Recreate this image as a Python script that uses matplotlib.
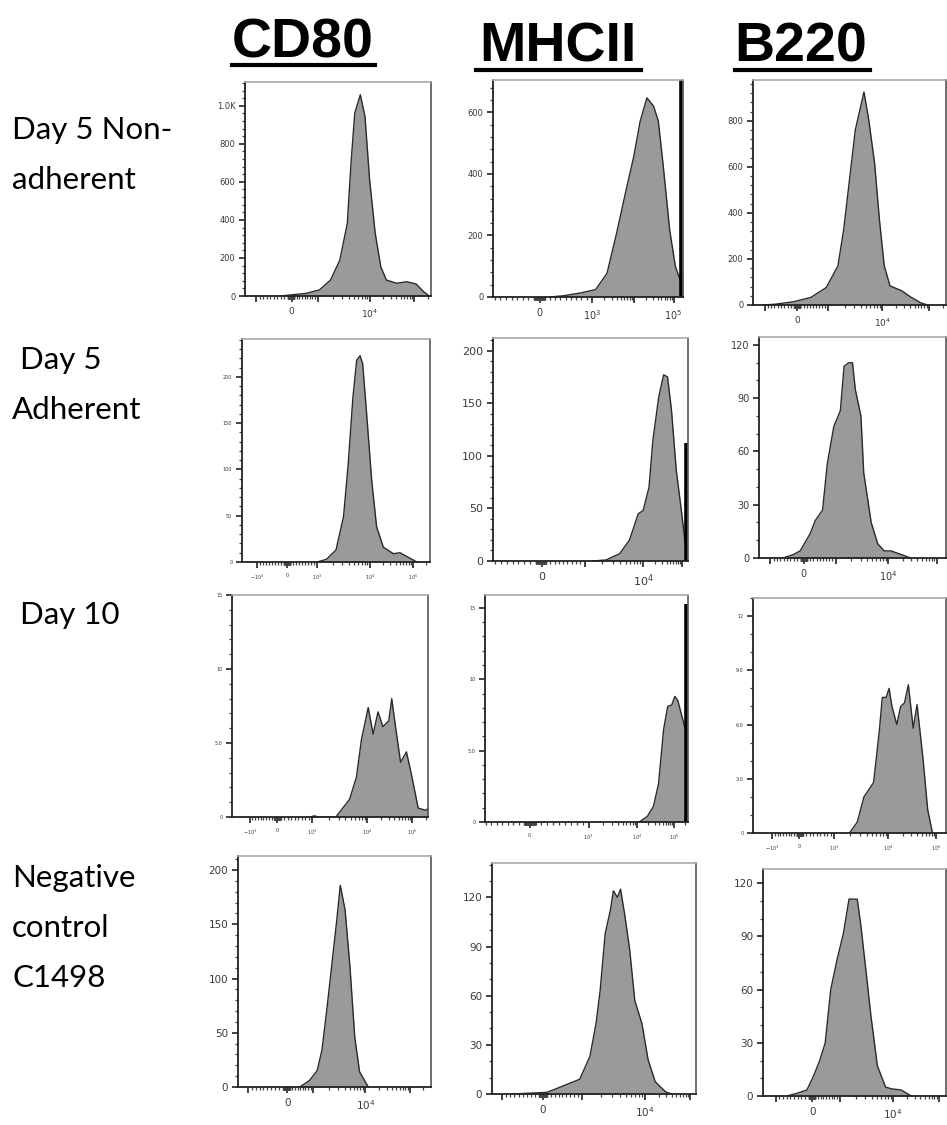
import matplotlib
matplotlib.use('agg')
import matplotlib.pyplot as plt
from matplotlib.lines import Line2D
from matplotlib.ticker import AutoMinorLocator
import numpy as np

W, H = 947, 1125
FILL = '#9a9a9a'
EDGE = '#2a2a2a'
TXT = '#3a3a3a'

markers = ['CD80', 'MHCII', 'B220']
samples = [['Day 5 Non-', 'adherent'], [' Day 5', 'Adherent'], [' Day 10'],
           ['Negative', 'control', 'C1498']]

# histogram outlines: x is the position on the biex display axis (0..1), y is count
cd80_d5n_x = [0.19, 0.33, 0.40, 0.46, 0.51, 0.55, 0.57, 0.59, 0.62, 0.645, 0.67, 0.70, 0.73, 0.76, 0.815, 0.87, 0.92, 0.96, 0.99]
cd80_d5n_y = [0, 14, 32, 84, 189, 382, 698, 961, 1058, 944, 610, 330, 154, 84, 67, 75, 63, 23, 0]
mhc_d5n_x = [0.30, 0.37, 0.46, 0.54, 0.60, 0.65, 0.70, 0.74, 0.775, 0.81, 0.845, 0.87, 0.895, 0.93, 0.96, 0.985, 1.0]
mhc_d5n_y = [0, 4, 13, 24, 77, 206, 346, 454, 572, 647, 620, 572, 432, 217, 99, 56, 77]
b220_d5n_x = [0.05, 0.11, 0.21, 0.30, 0.38, 0.44, 0.47, 0.50, 0.53, 0.575, 0.60, 0.63, 0.655, 0.68, 0.71, 0.77, 0.82, 0.87, 0.905]
b220_d5n_y = [0, 3, 14, 33, 76, 170, 328, 544, 760, 925, 803, 616, 371, 170, 83, 62, 33, 9, 0]

cd80_d5a_x = [0.40, 0.45, 0.50, 0.54, 0.565, 0.59, 0.61, 0.628, 0.642, 0.663, 0.69, 0.716, 0.752, 0.805, 0.84, 0.894, 0.93]
cd80_d5a_y = [0, 3, 13, 49, 106, 178, 218, 223, 214, 160, 88, 38, 16, 9, 10, 4, 0]
mhc_d5a_x = [0.51, 0.58, 0.65, 0.70, 0.745, 0.77, 0.80, 0.82, 0.85, 0.875, 0.895, 0.915, 0.94, 0.97, 0.985]
mhc_d5a_y = [0, 1, 7, 20, 45, 48, 70, 115, 156, 177, 175, 144, 86, 42, 17]
b220_d5a_x = [0.13, 0.185, 0.22, 0.275, 0.30, 0.34, 0.365, 0.40, 0.435, 0.455, 0.48, 0.50, 0.515, 0.545, 0.56, 0.60, 0.635, 0.67, 0.705, 0.76, 0.81]
b220_d5a_y = [0, 2, 4, 14, 21, 27, 53, 74, 83, 108, 110, 110, 95, 80, 48, 20, 8, 4, 4, 2, 0]

cd80_d10_x = [0.40, 0.42, 0.44, 0.53, 0.60, 0.635, 0.66, 0.695, 0.72, 0.745, 0.77, 0.80, 0.815, 0.83, 0.86, 0.89, 0.915, 0.95, 0.99, 1.0]
cd80_d10_y = [0, 0.08, 0, 0, 1.2, 2.7, 5.2, 7.4, 5.6, 7.1, 6.1, 6.5, 8.0, 6.5, 3.7, 4.4, 2.9, 0.6, 0.45, 0.6]
mhc_d10_x = [0.76, 0.80, 0.83, 0.855, 0.88, 0.90, 0.92, 0.935, 0.95, 0.97, 0.985]
mhc_d10_y = [0, 0.4, 1.1, 2.7, 6.5, 8.1, 8.2, 8.8, 8.5, 7.4, 6.6]
b220_d10_x = [0.50, 0.54, 0.575, 0.60, 0.625, 0.655, 0.67, 0.69, 0.705, 0.72, 0.745, 0.765, 0.785, 0.805, 0.83, 0.85, 0.88, 0.905, 0.93]
b220_d10_y = [0, 0.6, 2.0, 2.4, 2.8, 5.7, 7.5, 7.5, 8.0, 7.0, 6.0, 7.0, 7.2, 8.2, 5.8, 7.1, 4.2, 1.3, 0]

cd80_neg_x = [0.32, 0.37, 0.41, 0.435, 0.46, 0.485, 0.51, 0.53, 0.555, 0.58, 0.605, 0.63, 0.675]
cd80_neg_y = [0, 6, 15, 34, 71, 111, 151, 186, 163, 111, 46, 14, 0]
mhc_neg_x = [0.10, 0.27, 0.43, 0.48, 0.51, 0.53, 0.555, 0.58, 0.595, 0.615, 0.63, 0.65, 0.675, 0.70, 0.735, 0.765, 0.80, 0.85, 0.88]
mhc_neg_y = [0, 1, 9, 23, 43, 63, 98, 112, 124, 120, 125, 110, 88, 57, 43, 21, 7.5, 1.4, 0]
b220_neg_x = [0.13, 0.185, 0.24, 0.275, 0.31, 0.34, 0.37, 0.405, 0.44, 0.47, 0.495, 0.515, 0.535, 0.56, 0.59, 0.625, 0.67, 0.705, 0.755, 0.81]
b220_neg_y = [0, 1.5, 3.4, 11, 20, 30, 60, 77, 92, 111, 111, 111, 96, 73, 45, 17, 5, 4, 3.4, 0]

# events piled up in the last channel of the MHCII plots (rows 1-3)
mhc_edge = [760, 112, 15.3]

curves = [[(cd80_d5n_x, cd80_d5n_y), (mhc_d5n_x, mhc_d5n_y), (b220_d5n_x, b220_d5n_y)],
          [(cd80_d5a_x, cd80_d5a_y), (mhc_d5a_x, mhc_d5a_y), (b220_d5a_x, b220_d5a_y)],
          [(cd80_d10_x, cd80_d10_y), (mhc_d10_x, mhc_d10_y), (b220_d10_x, b220_d10_y)],
          [(cd80_neg_x, cd80_neg_y), (mhc_neg_x, mhc_neg_y), (b220_neg_x, b220_neg_y)]]

# y ticks and their labels
yticks = [[[0, 200, 400, 600, 800, 1000], [0, 200, 400, 600], [0, 200, 400, 600, 800]],
          [[0, 50, 100, 150, 200], [0, 50, 100, 150, 200], [0, 30, 60, 90, 120]],
          [[0, 5, 10, 15], [0, 5, 10, 15], [0, 3, 6, 9, 12]],
          [[0, 50, 100, 150, 200], [0, 30, 60, 90, 120], [0, 30, 60, 90, 120]]]
ylabels = [[['0', '200', '400', '600', '800', '1.0K'], None, None],
           [None, None, None],
           [['0', '5.0', '10', '15'], ['0', '5.0', '10', '15'], ['0', '3.0', '6.0', '9.0', '12']],
           [None, None, None]]
ymax = [[1125, 705, 977], [241, 212, 124.5], [15, 15.9, 13.0], [213, 141, 128]]

# decade labels: -10^3, 0, 10^3, 10^4, 10^5
dec_labels = [r'$-10^3$', '0', r'$10^3$', r'$10^4$', r'$10^5$']
xshow = [[[1, 3], [1, 2, 4], [1, 3]],
         [[0, 1, 2, 3, 4], [1, 3], [1, 3]],
         [[0, 1, 2, 3, 4], [1, 2, 3, 4], [0, 1, 2, 3, 4]],
         [[1, 3], [1, 3], [1, 3]]]

# ---- layout (pixels) ----
boxes = [[(245, 82, 431, 296), (493, 80, 683, 297), (753, 80, 946, 305)],
         [(242, 339, 430, 562), (493, 338, 688, 561), (759, 337, 946, 558)],
         [(232, 595, 428, 817), (485, 595, 688, 822), (753, 598, 946, 833)],
         [(238, 856, 431, 1087), (492, 863, 696, 1094), (763, 869, 946, 1096)]]
xpos = [[[0.06, 0.25, 0.39, 0.67, 0.91], [-0.05, 0.245, 0.52, 0.74, 0.95], [0.06, 0.23, 0.39, 0.67, 0.91]],
        [[0.08, 0.24, 0.40, 0.68, 0.91], [-0.05, 0.25, 0.47, 0.77, 0.97], [0.06, 0.24, 0.41, 0.69, 0.95]],
        [[0.09, 0.23, 0.41, 0.69, 0.92], [-0.05, 0.22, 0.51, 0.75, 0.93], [0.10, 0.24, 0.42, 0.70, 0.95]],
        [[0.05, 0.255, 0.39, 0.66, 0.89], [0.05, 0.25, 0.44, 0.75, 0.97], [0.07, 0.27, 0.42, 0.71, 0.96]]]
font_sizes = [[(6.5, 6), (7, 6), (6.5, 6)],
              [(3.5, 3.5), (8, 8), (7, 7)],
              [(3.5, 3.5), (3.5, 3.5), (3.5, 3.5)],
              [(7.5, 7.5), (7.5, 7.5), (7.5, 7.5)]]


def minor_positions(p):
    neg, z, d3, d4, d5 = p
    out = []
    lin = list(range(5, 100, 5)) + list(range(100, 1000, 100))
    for v in lin:
        out.append(z + (d3 - z) * v / 1000.0)
        out.append(z - (z - neg) * v / 1000.0)
    for m in range(2, 10):
        out.append(d3 + (d4 - d3) * np.log10(m))
        out.append(d4 + (d5 - d4) * np.log10(m))
    out.append(d5 + (d5 - d4) * np.log10(2))
    return [x for x in out if 0 < x < 1]


def px_box(box):
    l, t, r, b = box
    return [l / W, 1 - b / H, (r - l) / W, (b - t) / H]


def draw_panel(fig, i, j):
    ax = fig.add_axes(px_box(boxes[i][j]))
    x, y = curves[i][j]
    ax.fill_between(x, y, 0, color=FILL, lw=0)
    ax.plot(x, y, color=EDGE, lw=1.0)
    if j == 1 and i < 3:
        ax.vlines(0.992, 0, mhc_edge[i], color='black', lw=2.6)

    ax.set_xlim(0, 1)
    ax.set_ylim(0, ymax[i][j])

    pos = xpos[i][j]
    xt = [pos[k] for k in range(5) if 0 <= pos[k] <= 1]
    xl = [dec_labels[k] if k in xshow[i][j] else '' for k in range(5) if 0 <= pos[k] <= 1]
    xfs, yfs = font_sizes[i][j]
    ax.set_xticks(xt)
    ax.set_xticklabels(xl, fontsize=xfs, color=TXT)
    ax.set_xticks(minor_positions(pos), minor=True)

    yt = yticks[i][j]
    ax.set_yticks(yt)
    labs = ylabels[i][j] if ylabels[i][j] else [str(v) for v in yt]
    ax.set_yticklabels(labs, fontsize=yfs, color=TXT)
    step = yt[1] - yt[0]
    ax.yaxis.set_minor_locator(AutoMinorLocator(3 if step in (3, 30) else 5))

    ax.tick_params(which='major', length=4, width=1.2, color='#222222', pad=3)
    ax.tick_params(which='minor', length=2.2, width=0.9, color='#444444')
    ax.tick_params(axis='x', which='major', pad=4)
    for s in ['left', 'bottom']:
        ax.spines[s].set_color('#222222')
        ax.spines[s].set_linewidth(1.3)
    ax.spines['top'].set_color('#a8a8a8')
    ax.spines['right'].set_color('#555555')
    ax.spines['top'].set_linewidth(1.2)
    ax.spines['right'].set_linewidth(1.2)
    return ax


fig = plt.figure(figsize=(W / 100, H / 100), dpi=100)

for i in range(4):
    for j in range(3):
        draw_panel(fig, i, j)

# column headers, bold and underlined
title_pos = [(303, 58, 232, 375, 65), (558, 62, 476, 641, 70), (801, 62, 735, 870, 70)]
for name, (cx, base, u0, u1, uy) in zip(markers, title_pos):
    fig.text(cx / W, 1 - base / H, name, ha='center', va='baseline',
             fontsize=40, fontweight='bold', family='Liberation Sans')
    fig.add_artist(Line2D([u0 / W, u1 / W], [1 - uy / H, 1 - uy / H],
                          color='black', lw=3, transform=fig.transFigure))

# row labels
row_y = [130, 360, 615, 878]
for lines, y0 in zip(samples, row_y):
    for k, line in enumerate(lines):
        fig.text(12 / W, 1 - (y0 + 50 * k) / H, line, ha='left', va='center',
                 fontsize=22.5, family='Lato')

fig.savefig('out.png', dpi=100)
